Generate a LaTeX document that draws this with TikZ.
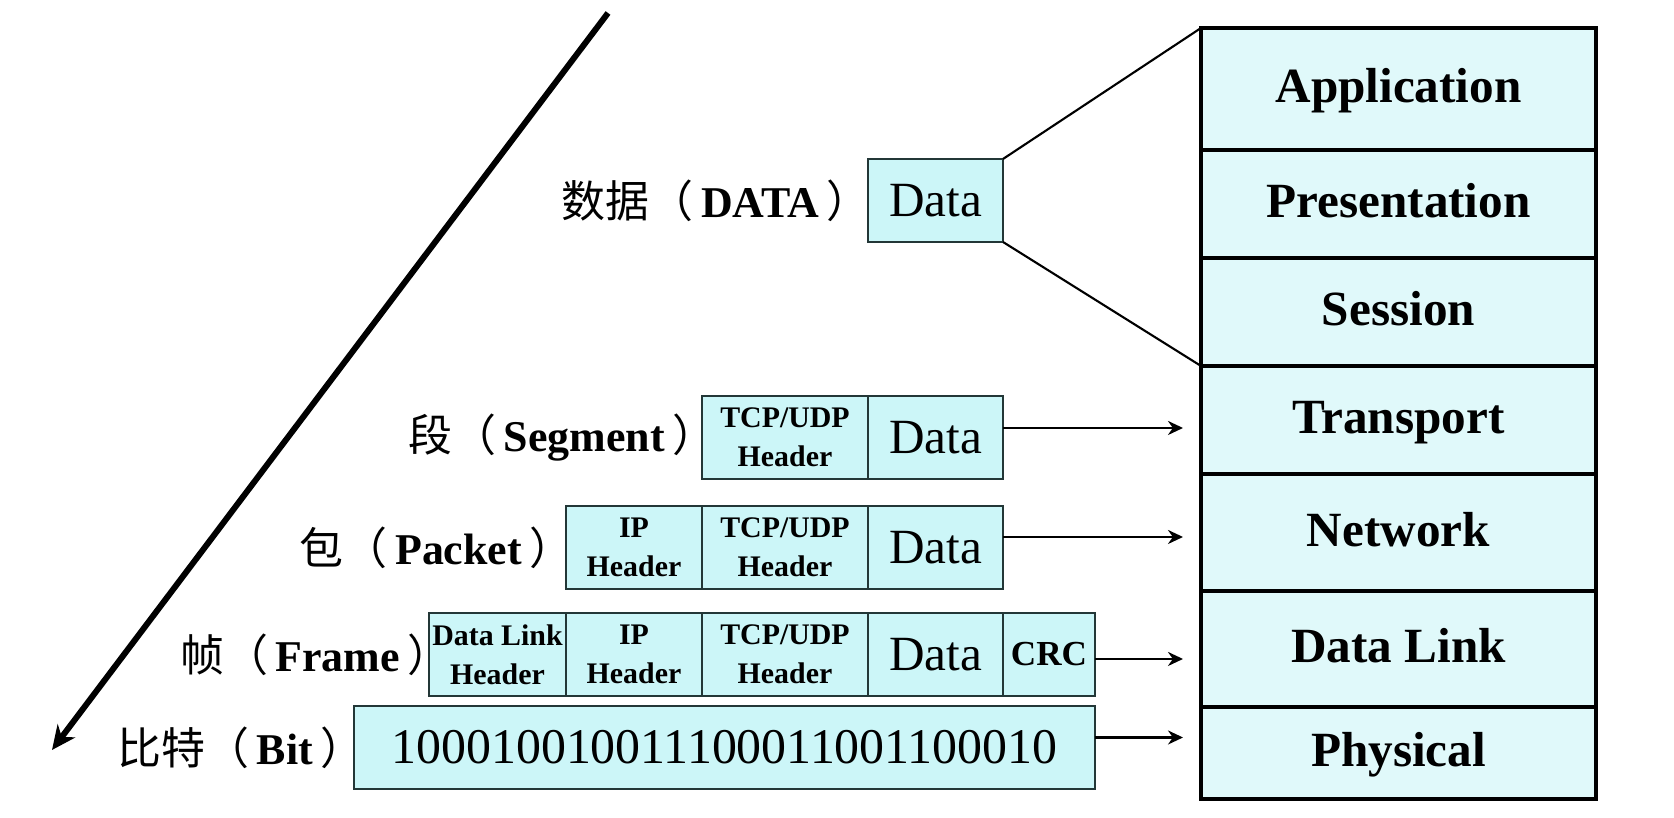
\documentclass[tikz,border=0pt]{standalone}
\usepackage{fontspec}
\setmainfont{Liberation Serif}
\newfontfamily\cjk{Noto Sans CJK SC}
\usetikzlibrary{arrows.meta, positioning, calc}
\definecolor{cellColor}{RGB}{204,246,248}
\definecolor{layerColor}{RGB}{224,249,250}
\definecolor{edgeColor}{RGB}{35,55,55}
\newcommand{\pdulabel}[2]{{\cjk #1（}\,\textbf{#2}\,{\cjk ）}}

\begin{document}
\begin{tikzpicture}[
        cell/.style={rectangle, draw=edgeColor, fill=cellColor, line width=0.8pt, outer sep=0pt, inner sep=0pt, minimum height=0.83cm, align=center},
        hdr/.style={cell, font=\fontsize{8.5}{11}\selectfont\bfseries},
        datacell/.style={cell, minimum width=1.35cm, font=\fontsize{14}{16}\selectfont},
        layer/.style={rectangle, draw=black, fill=layerColor, line width=1pt, outer sep=0pt, minimum width=3.95cm, text height=0.78em, text depth=0pt, font=\fontsize{14}{16}\selectfont\bfseries},
        rowlabel/.style={inner sep=0pt, font=\fontsize{12.5}{14}\selectfont},
        arrow/.style={-{Stealth[length=1.5mm, width=1.4mm]}, line width=0.7pt},
        flow/.style={-{Stealth[length=2.4mm, width=2.2mm]}, line width=1.7pt}
    ]
        \useasboundingbox (0,0) rectangle (16.74,8.18);

        % OSI layers
        \node[layer, minimum height=1.22cm, anchor=north west] (app) at (12.01,7.90) {Application};
        \node[layer, minimum height=1.08cm, below=0cm of app] (pre) {Presentation};
        \node[layer, minimum height=1.08cm, below=0cm of pre] (ses) {Session};
        \node[layer, minimum height=1.08cm, below=0cm of ses] (tra) {Transport};
        \node[layer, minimum height=1.17cm, below=0cm of tra] (net) {Network};
        \node[layer, minimum height=1.16cm, below=0cm of net] (dll) {Data Link};
        \node[layer, minimum height=0.92cm, below=0cm of dll] (phy) {Physical};

        % Data
        \node[datacell, anchor=north west] (dat) at (8.68,6.59) {Data};
        \node[rowlabel, left=-0.03cm of dat] (datlbl) {\pdulabel{数据}{DATA}};
        \draw[line width=0.6pt] (dat.north east) -- (app.north west);
        \draw[line width=0.6pt] (dat.south east) -- (ses.south west);

        % Segment
        \node[hdr, minimum width=1.66cm, anchor=north west] (seg1) at (7.02,4.22) {TCP/UDP\\Header};
        \node[datacell, right=0cm of seg1] (seg2) {Data};
        \node[rowlabel, left=-0.15cm of seg1] (seglbl) {\pdulabel{段}{Segment}};

        % Packet
        \node[hdr, minimum width=1.36cm, anchor=north west] (pkt1) at (5.66,3.12) {IP\\Header};
        \node[hdr, minimum width=1.66cm, right=0cm of pkt1] (pkt2) {TCP/UDP\\Header};
        \node[datacell, right=0cm of pkt2] (pkt3) {Data};
        \node[rowlabel, left=-0.08cm of pkt1] (pktlbl) {\pdulabel{包}{Packet}};

        % Frame
        \node[hdr, minimum width=1.37cm, anchor=north west] (frm1) at (4.29,2.05) {Data Link\\Header};
        \node[hdr, minimum width=1.36cm, right=0cm of frm1] (frm2) {IP\\Header};
        \node[hdr, minimum width=1.66cm, right=0cm of frm2] (frm3) {TCP/UDP\\Header};
        \node[datacell, right=0cm of frm3] (frm4) {Data};
        \node[cell, minimum width=0.92cm, right=0cm of frm4, font=\fontsize{10}{12}\selectfont\bfseries] (frm5) {CRC};
        \node[rowlabel, left=-0.23cm of frm1] (frmlbl) {\pdulabel{帧}{Frame}};

        % Bit
        \node[cell, minimum width=7.41cm, anchor=north west, font=\fontsize{14.2}{16}\selectfont] (bit) at (3.54,1.12) {100010010011100011001100010};
        \node[rowlabel, left=-0.11cm of bit] (bitlbl) {\pdulabel{比特}{Bit}};

        % arrows to the layers
        \coordinate (tipx) at (11.83,0);
        \draw[arrow] ([yshift=0.95mm]seg2.east) -- ([yshift=0.95mm]seg2.east -| tipx);
        \draw[arrow] ([yshift=1.05mm]pkt3.east) -- ([yshift=1.05mm]pkt3.east -| tipx);
        \draw[arrow] ([yshift=-0.45mm]frm5.east) -- ([yshift=-0.45mm]frm5.east -| tipx);
        \draw[arrow] ([yshift=1mm]bit.east) -- ([yshift=1mm]bit.east -| tipx);

        % encapsulation direction
        \coordinate (flowtop) at (6.08,8.05);
        \coordinate (flowend) at (0.52,0.68);
        \draw[flow] (flowtop) -- (flowend);
    \end{tikzpicture}
\end{document}
